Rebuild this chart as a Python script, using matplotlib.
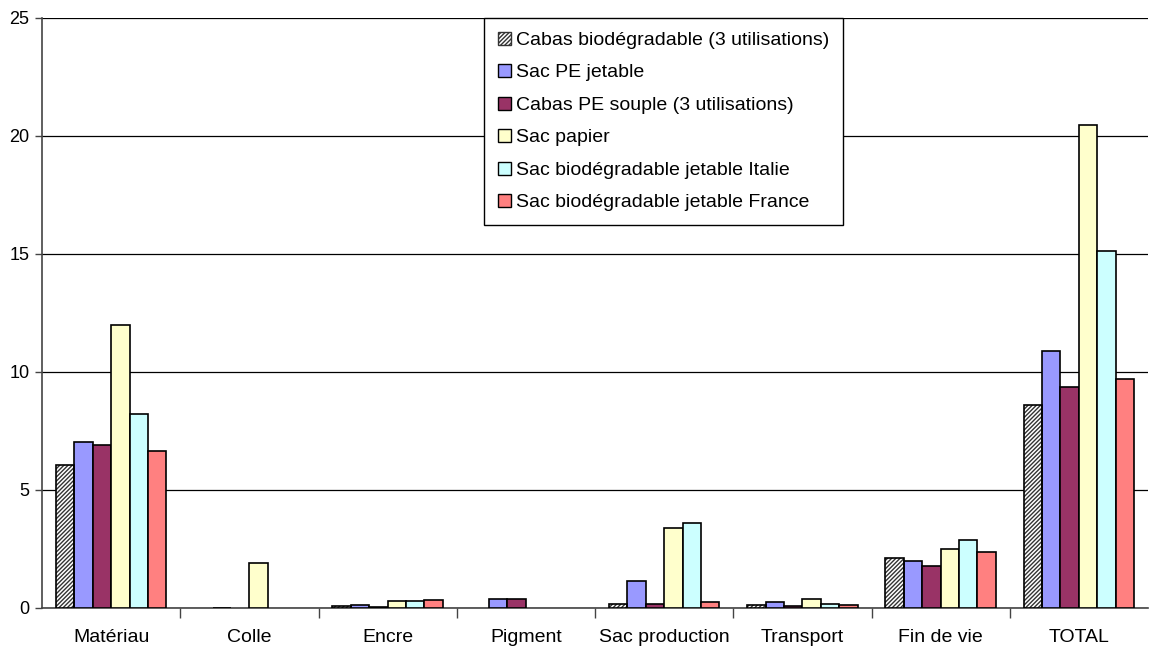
import matplotlib
matplotlib.use("Agg")
import matplotlib.pyplot as plt
import numpy as np
from matplotlib.patches import Patch

plt.rcParams['font.family'] = ['Liberation Sans', 'DejaVu Sans']

categories = ["Matériau", "Colle", "Encre", "Pigment", "Sac production",
              "Transport", "Fin de vie", "TOTAL"]

series_names = ["Cabas biodégradable (3 utilisations)",
                "Sac PE jetable",
                "Cabas PE souple (3 utilisations)",
                "Sac papier",
                "Sac biodégradable jetable Italie",
                "Sac biodégradable jetable France"]

cabas_bio = [6.06, 0.0, 0.10, 0.0, 0.19, 0.12, 2.10, 8.59]
sac_pe = [7.03, 0.02, 0.13, 0.40, 1.13, 0.27, 1.99, 10.90]
cabas_pe = [6.90, 0.0, 0.04, 0.37, 0.16, 0.08, 1.80, 9.35]
sac_papier = [12.0, 1.90, 0.28, 0.0, 3.40, 0.40, 2.50, 20.48]
bio_italie = [8.22, 0.0, 0.31, 0.0, 3.62, 0.16, 2.88, 15.14]
bio_france = [6.65, 0.0, 0.34, 0.0, 0.24, 0.13, 2.36, 9.70]

values = [cabas_bio, sac_pe, cabas_pe, sac_papier, bio_italie, bio_france]
colors = ["white", "#9999FF", "#993366", "#FFFFCC", "#CCFFFF", "#FF8080"]

fig = plt.figure(figsize=(11.49, 6.48), dpi=100)
ax = fig.add_axes([42 / 1149, 40 / 648, 1106 / 1149, 590 / 648])

x = np.arange(len(categories))
w = 0.8 / len(values)
for i, (vals, col) in enumerate(zip(values, colors)):
    pos = x - 0.4 + w * (i + 0.5)
    v = np.array(vals, dtype=float)
    v[v == 0] = np.nan  # empty cells: no bar drawn
    if i == 0:
        ax.bar(pos, v, w, color="white", hatch="////////", edgecolor="#333333",
               linewidth=0, zorder=3)
        ax.bar(pos, v, w, fill=False, edgecolor="black", linewidth=1.2, zorder=4)
    else:
        ax.bar(pos, v, w, color=col, edgecolor="black", linewidth=1.2, zorder=3)

ax.set_xlim(-0.5, len(categories) - 0.5)
ax.set_ylim(0, 25)
ax.set_yticks([0, 5, 10, 15, 20, 25])
ax.yaxis.grid(True, color="black", linewidth=0.9, zorder=0)
ax.set_axisbelow(True)

ax.set_xticks(x)
ax.set_xticklabels(categories, fontsize=14)
ax.set_xticks(np.arange(0.5, len(categories) - 0.5, 1), minor=True)
ax.tick_params(axis="x", which="major", length=0, pad=15)
ax.tick_params(axis="x", which="minor", length=7, width=1, color="#444444")
ax.tick_params(axis="y", length=5, width=1, color="#444444", labelsize=13, pad=4)

for s in ["top", "right"]:
    ax.spines[s].set_visible(False)
ax.spines["left"].set_color("#444444")
ax.spines["bottom"].set_color("#444444")
ax.spines["left"].set_linewidth(1.2)
ax.spines["bottom"].set_linewidth(1.2)

handles = []
for i, col in enumerate(colors):
    if i == 0:
        handles.append(Patch(facecolor="white", hatch="////////", edgecolor="#333333"))
    else:
        handles.append(Patch(facecolor=col, edgecolor="black"))

leg = ax.legend(handles, series_names, loc="upper left", bbox_to_anchor=(0.4, 1.0),
                fontsize=14, frameon=True, fancybox=False, framealpha=1,
                edgecolor="black", handlelength=0.65, handleheight=0.65,
                handletextpad=0.3, labelspacing=0.78, borderpad=0.7,
                borderaxespad=0)
leg.get_frame().set_linewidth(1.0)

fig.savefig("out.png", dpi=100)
